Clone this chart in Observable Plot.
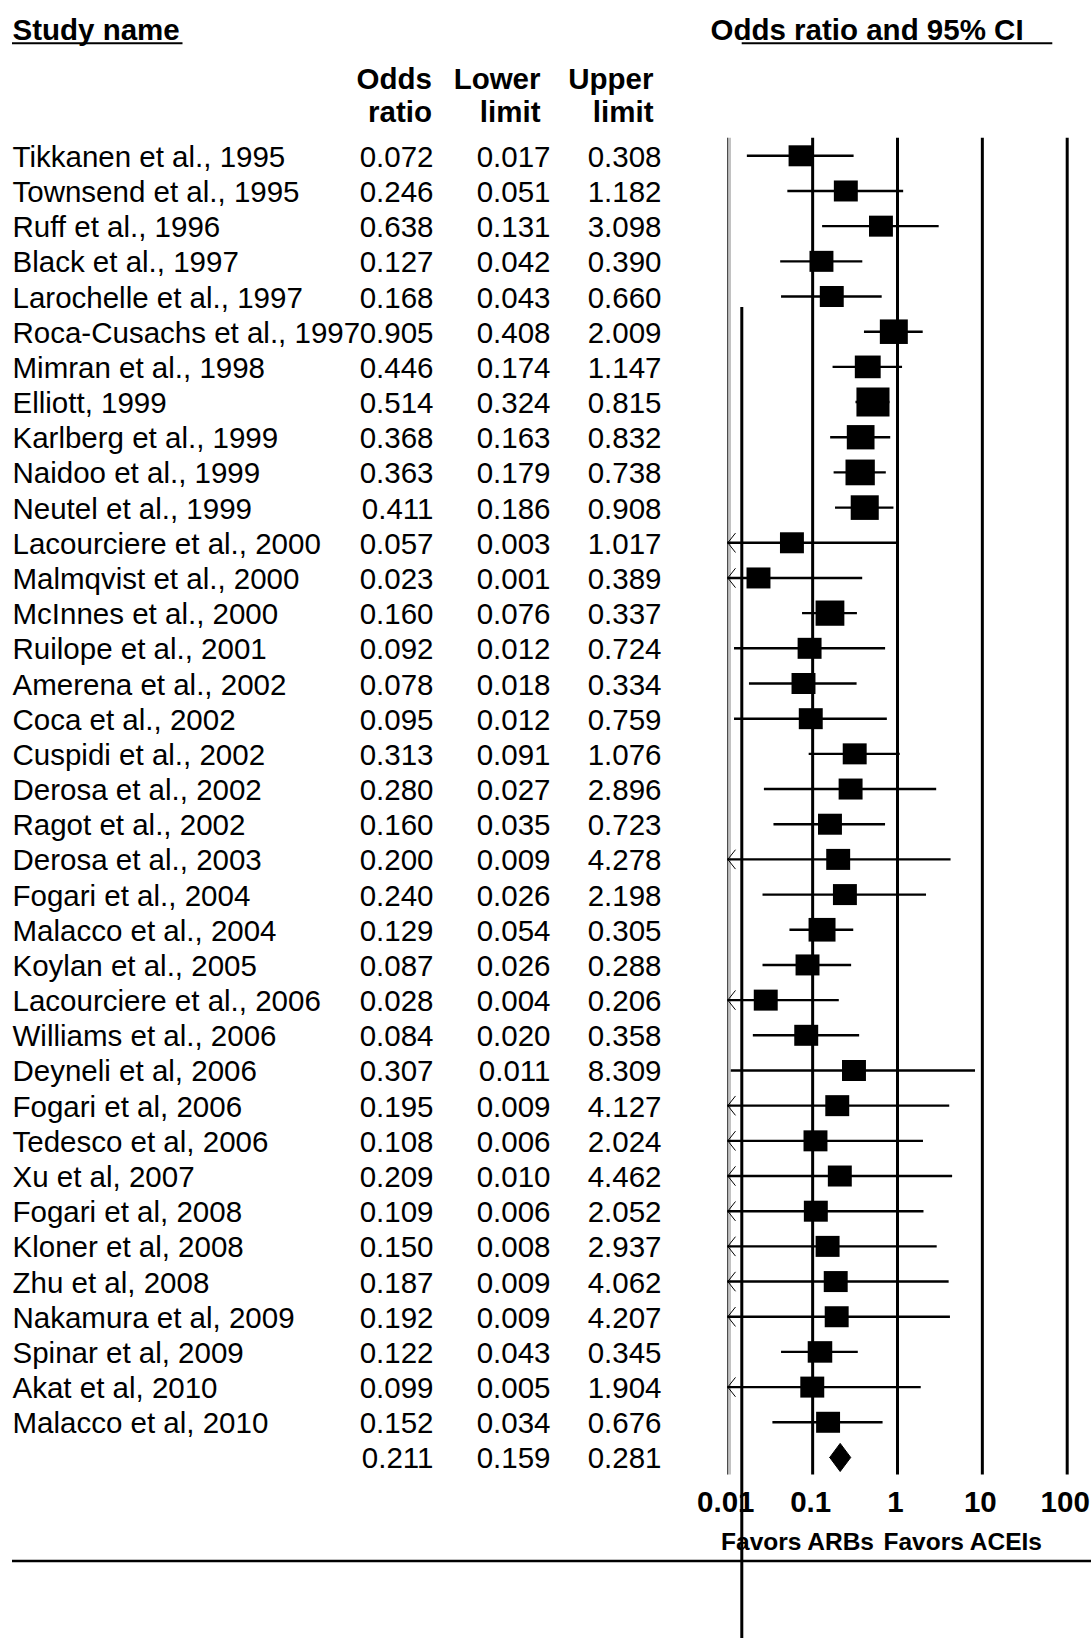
<!DOCTYPE html>
<html>
<head>
<meta charset="utf-8">
<script src="https://cdn.jsdelivr.net/npm/d3@7"></script>
<script src="https://cdn.jsdelivr.net/npm/@observablehq/plot@0.6"></script>
<style>
  html, body { margin: 0; padding: 0; background: #fff; }
  #chart svg { display: block; }
</style>
</head>
<body>
<div id="chart"></div>
<script>
// Individual studies (ARBs vs ACEIs): odds ratio with 95% confidence limits
const studies = [
  "Tikkanen et al., 1995", "Townsend et al., 1995", "Ruff et al., 1996", "Black et al., 1997",
  "Larochelle et al., 1997", "Roca-Cusachs et al., 1997", "Mimran et al., 1998", "Elliott, 1999",
  "Karlberg et al., 1999", "Naidoo et al., 1999", "Neutel et al., 1999", "Lacourciere et al., 2000",
  "Malmqvist et al., 2000", "McInnes et al., 2000", "Ruilope et al., 2001", "Amerena et al., 2002",
  "Coca et al., 2002", "Cuspidi et al., 2002", "Derosa et al., 2002", "Ragot et al., 2002",
  "Derosa et al., 2003", "Fogari et al., 2004", "Malacco et al., 2004", "Koylan et al., 2005",
  "Lacourciere et al., 2006", "Williams et al., 2006", "Deyneli et al, 2006", "Fogari et al, 2006",
  "Tedesco et al, 2006", "Xu et al, 2007", "Fogari et al, 2008", "Kloner et al, 2008",
  "Zhu et al, 2008", "Nakamura et al, 2009", "Spinar et al, 2009", "Akat et al, 2010",
  "Malacco et al, 2010"
];
const oddsRatio = [
  0.072, 0.246, 0.638, 0.127, 0.168, 0.905, 0.446, 0.514, 0.368, 0.363, 0.411, 0.057,
  0.023, 0.160, 0.092, 0.078, 0.095, 0.313, 0.280, 0.160, 0.200, 0.240, 0.129, 0.087,
  0.028, 0.084, 0.307, 0.195, 0.108, 0.209, 0.109, 0.150, 0.187, 0.192, 0.122, 0.099,
  0.152
];
const lowerLimit = [
  0.017, 0.051, 0.131, 0.042, 0.043, 0.408, 0.174, 0.324, 0.163, 0.179, 0.186, 0.003,
  0.001, 0.076, 0.012, 0.018, 0.012, 0.091, 0.027, 0.035, 0.009, 0.026, 0.054, 0.026,
  0.004, 0.020, 0.011, 0.009, 0.006, 0.010, 0.006, 0.008, 0.009, 0.009, 0.043, 0.005,
  0.034
];
const upperLimit = [
  0.308, 1.182, 3.098, 0.390, 0.660, 2.009, 1.147, 0.815, 0.832, 0.738, 0.908, 1.017,
  0.389, 0.337, 0.724, 0.334, 0.759, 1.076, 2.896, 0.723, 4.278, 2.198, 0.305, 0.288,
  0.206, 0.358, 8.309, 4.127, 2.024, 4.462, 2.052, 2.937, 4.062, 4.207, 0.345, 1.904,
  0.676
];
// Relative weight of each study (%), shown by the size of its box
const relWeight = [
  2.78, 2.47, 2.44, 3.91, 3.02, 5.50, 4.70, 7.68, 5.40, 6.04, 5.53, 0.88,
  0.84, 5.82, 1.62, 2.75, 1.59, 3.45, 1.30, 2.61, 0.79, 1.42, 5.11, 3.56,
  1.73, 2.80, 0.69, 0.80, 0.88, 0.81, 0.88, 0.86, 0.81, 0.80, 4.23, 0.85,
  2.66
];
// Pooled estimate
const pooledOR = 0.211, pooledLower = 0.159, pooledUpper = 0.281;
const xTicks = [0.01, 0.1, 1, 10, 100];
const columnHeaders = ["Odds\nratio", "Lower\nlimit", "Upper\nlimit"];

const n = studies.length;
const rows = studies.map((name, i) => ({
  i, name, or: oddsRatio[i], lo: lowerLimit[i], hi: upperLimit[i], w: relWeight[i]
}));
const tableRows = [...rows, {i: n, or: pooledOR, lo: pooledLower, hi: pooledUpper}];
const diamond = [
  {x: pooledLower, y: n}, {x: pooledOR, y: n - 0.4},
  {x: pooledUpper, y: n}, {x: pooledOR, y: n + 0.4}, {x: pooledLower, y: n}
];
const fmt = d3.format(".3f");

// Study box: slightly wider than tall, never smaller than a minimum size
const box = {
  draw(ctx, size) {
    const h = Math.max(10.5, Math.sqrt(size / Math.PI));
    const w = h * 1.14;
    ctx.rect(-w, -h, 2 * w, 2 * h);
  }
};
// Open arrowhead for intervals running past the left edge of the scale
const chevron = {
  draw(ctx) {
    ctx.moveTo(7.7, -9.7);
    ctx.lineTo(0, 0);
    ctx.lineTo(7.7, 9.7);
  }
};

const FS = 29.5;
const textBase = {lineAnchor: "bottom", fontSize: FS, fill: "black"};
const headerBase = {...textBase, frameAnchor: "top-left", dy: 121.5, lineHeight: 1.13, textAnchor: "end", fontWeight: "bold"};

const chart = Plot.plot({
  width: 1091,
  height: 1638,
  margin: 0,
  style: {fontFamily: "'Liberation Sans', Arial, sans-serif", fontSize: FS + "px", background: "#fff"},
  x: {type: "log", domain: [0.01, 100], range: [727.3, 1066.7], clamp: true, axis: null},
  y: {type: "linear", domain: [0, n], range: [155.3, 1456.96], axis: null},
  r: {type: "sqrt", domain: [0, 7.68], range: [0, 14.5]},
  marks: [
    // reference lines at each decade
    Plot.ruleX(xTicks.slice(1), {y1: -0.5, y2: n + 0.5, stroke: "black", strokeWidth: 3}),
    Plot.ruleX([0.01], {y1: -0.5, y2: n + 0.5, stroke: "black", strokeWidth: 1}),
    Plot.ruleX([0.01], {y1: -0.5, y2: n + 0.5, stroke: "#999", strokeWidth: 1.2, dx: 2.2}),
    Plot.ruleX([0.01], {dx: 14, insetTop: 307, stroke: "black", strokeWidth: 3}),

    // confidence intervals
    Plot.ruleY(rows, {y: "i", x1: "lo", x2: "hi", stroke: "black", strokeWidth: 2.4}),
    Plot.dot(rows.filter((d) => d.lo <= 0.01), {
      x: "lo", y: "i", symbol: chevron, fill: "none", stroke: "black", strokeWidth: 1
    }),
    // point estimates
    Plot.dot(rows, {x: "or", y: "i", r: "w", symbol: box, fill: "black", stroke: "none"}),
    // pooled estimate
    Plot.line(diamond, {x: "x", y: "y", fill: "black", stroke: "black", strokeWidth: 1}),

    // table: study names and values
    Plot.text(rows, {...textBase, text: "name", y: "i", frameAnchor: "left", dx: 12, dy: 11, textAnchor: "start"}),
    Plot.text(tableRows, {...textBase, text: (d) => fmt(d.or), y: "i", frameAnchor: "left", dx: 433, dy: 11, textAnchor: "end"}),
    Plot.text(tableRows, {...textBase, text: (d) => fmt(d.lo), y: "i", frameAnchor: "left", dx: 550, dy: 11, textAnchor: "end"}),
    Plot.text(tableRows, {...textBase, text: (d) => fmt(d.hi), y: "i", frameAnchor: "left", dx: 661, dy: 11, textAnchor: "end"}),

    // headers
    Plot.text(["Study name"], {...textBase, frameAnchor: "top-left", dx: 12, dy: 39, textAnchor: "start", fontWeight: "bold"}),
    Plot.text(["Odds ratio and 95% CI"], {...textBase, frameAnchor: "top-left", dx: 710, dy: 39, textAnchor: "start", fontWeight: "bold"}),
    Plot.text([columnHeaders[0]], {...headerBase, dx: 431.5}),
    Plot.text([columnHeaders[1]], {...headerBase, dx: 540}),
    Plot.text([columnHeaders[2]], {...headerBase, dx: 653}),
    // header underlines
    Plot.ruleY([-0.5], {dy: -95, insetLeft: 12, insetRight: 1091 - 182.5, stroke: "black", strokeWidth: 2}),
    Plot.ruleY([-0.5], {dy: -95, insetLeft: 741.7, insetRight: 1091 - 1052.3, stroke: "black", strokeWidth: 2}),

    // tick labels and direction captions
    Plot.text(xTicks, {...textBase, x: (d) => d, text: (d) => String(d), frameAnchor: "top", dy: 1511, dx: -2, textAnchor: "middle", fontWeight: "bold"}),
    Plot.text(["Favors ARBs"], {...textBase, x: () => 1, frameAnchor: "top", dy: 1549, dx: -23.5, textAnchor: "end", fontWeight: "bold", fontSize: 24.5}),
    Plot.text(["Favors ACEIs"], {...textBase, x: () => 1, frameAnchor: "top", dy: 1549, dx: -14, textAnchor: "start", fontWeight: "bold", fontSize: 24.5}),

    // bottom border
    Plot.ruleY([n + 0.5], {dy: 86, insetLeft: 12, stroke: "black", strokeWidth: 2.5})
  ]
});

document.getElementById("chart").append(chart);
</script>
</body>
</html>
